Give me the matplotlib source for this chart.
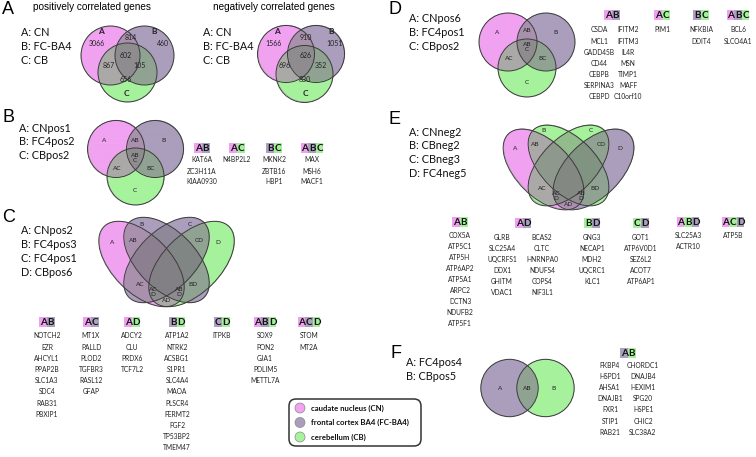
import numpy as np
import matplotlib
matplotlib.use('Agg')
import matplotlib.pyplot as plt
from matplotlib.patches import Circle, Ellipse, Rectangle, FancyBboxPatch

plt.rcParams['font.family'] = ['Lato', 'DejaVu Sans']

# ---------------- data ----------------
tissue_names = ['caudate nucleus (CN)', 'frontal cortex BA4 (FC-BA4)', 'cerebellum (CB)']

A_titles = ['positively correlated genes', 'negatively correlated genes']
A_sets = ['A: CN', 'B: FC-BA4', 'C: CB']
A_regions = ['A', 'AB', 'B', 'ABC', 'AC', 'BC', 'C']
A_pos_counts = [3066, 814, 460, 602, 867, 105, 656]
A_neg_counts = [1566, 910, 1051, 626, 696, 352, 830]

B_sets = ['A: CNpos1', 'B: FC4pos2', 'C: CBpos2']
B_groups = ['AB', 'AC', 'BC', 'ABC']
B_AB = ['KAT6A', 'ZC3H11A', 'KIAA0930']
B_AC = ['N4BP2L2']
B_BC = ['MKNK2', 'ZBTB16', 'HBP1']
B_ABC = ['MAX', 'MSH6', 'MACF1']

C_sets = ['A: CNpos2', 'B: FC4pos3', 'C: FC4pos1', 'D: CBpos6']
C_groups = ['AB', 'AC', 'AD', 'BD', 'CD', 'ABD', 'ACD']
C_AB = ['NOTCH2', 'EZR', 'AHCYL1', 'PPAP2B', 'SLC1A3', 'SDC4', 'RAB31', 'PBXIP1']
C_AC = ['MT1X', 'PALLD', 'PLOD2', 'TGFBR3', 'RASL12', 'GFAP']
C_AD = ['ADCY2', 'CLU', 'PRDX6', 'TCF7L2']
C_BD = ['ATP1A2', 'NTRK2', 'ACSBG1', 'S1PR1', 'SLC4A4', 'MAOA', 'PLSCR4',
        'FERMT2', 'FGF2', 'TP53BP2', 'TMEM47']
C_CD = ['ITPKB']
C_ABD = ['SOX9', 'PON2', 'GJA1', 'PDLIM5', 'METTL7A']
C_ACD = ['STOM', 'MT2A']

D_sets = ['A: CNpos6', 'B: FC4pos1', 'C: CBpos2']
D_groups = ['AB', 'AC', 'BC', 'ABC']
D_AB_1 = ['CSDA', 'MCL1', 'GADD45B', 'CD44', 'CEBPB', 'SERPINA3', 'CEBPD']
D_AB_2 = ['IFITM2', 'IFITM3', 'IL4R', 'MSN', 'TIMP1', 'MAFF', 'C10orf10']
D_AC = ['PIM1']
D_BC = ['NFKBIA', 'DDIT4']
D_ABC = ['BCL6', 'SLCO4A1']

E_sets = ['A: CNneg2', 'B: CBneg2', 'C: CBneg3', 'D: FC4neg5']
E_groups = ['AB', 'AD', 'BD', 'CD', 'ABD', 'ACD']
E_AB = ['COX5A', 'ATP5C1', 'ATP5H', 'ATP6AP2', 'ATP5A1', 'ARPC2', 'DCTN3', 'NDUFB2', 'ATP5F1']
E_AD_1 = ['GLRB', 'SLC25A4', 'UQCRFS1', 'DDX1', 'GHITM', 'VDAC1']
E_AD_2 = ['BCAS2', 'CLTC', 'HNRNPA0', 'NDUFS4', 'COPS4', 'NIF3L1']
E_BD = ['GNG3', 'NECAP1', 'MDH2', 'UQCRC1', 'KLC1']
E_CD = ['GOT1', 'ATP6V0D1', 'SEZ6L2', 'ACOT7', 'ATP6AP1']
E_ABD = ['SLC25A3', 'ACTR10']
E_ACD = ['ATP5B']

F_sets = ['A: FC4pos4', 'B: CBpos5']
F_groups = ['AB']
F_AB_1 = ['FKBP4', 'HSPD1', 'AHSA1', 'DNAJB1', 'FXR1', 'STIP1', 'RAB21']
F_AB_2 = ['CHORDC1', 'DNAJB4', 'HEXIM1', 'SPG20', 'HSPE1', 'CHIC2', 'SLC38A2']

# ---------------- style ----------------
PINK = (241, 162, 241)
PURPLE = (170, 158, 188)
GREEN = (166, 243, 156)
HPINK = '#EFA0EF'
HPURPLE = '#ABA0BD'
HGREEN = '#A4EE9C'
FACT = {1: 1.0, 2: 0.84, 3: 0.74, 4: 0.70}
DESAT = {1: 0.0, 2: 0.35, 3: 0.5, 4: 0.55}
EDGE = '#3c3c3c'

fig = plt.figure(figsize=(7.56, 4.57), dpi=100)
ax = fig.add_axes([0, 0, 1, 1])


def venn(shapes, cols, box):
    x0, x1, y0, y1 = box
    res = 4
    xs = np.linspace(x0, x1, int((x1 - x0) * res))
    ys = np.linspace(y0, y1, int((y1 - y0) * res))
    X, Y = np.meshgrid(xs, ys)
    masks = []
    for (cx, cy, a, b, ang) in shapes:
        t = np.deg2rad(ang)
        du, dv = X - cx, Y - cy
        p = du * np.cos(t) + dv * np.sin(t)
        q = -du * np.sin(t) + dv * np.cos(t)
        masks.append((p / a) ** 2 + (q / b) ** 2 <= 1)
    n = len(shapes)
    img = np.zeros(X.shape + (4,))
    for combo in range(1, 2 ** n):
        mem = [i for i in range(n) if (combo >> i) & 1]
        m = np.ones(X.shape, bool)
        for i in range(n):
            m &= masks[i] if i in mem else ~masks[i]
        col = np.mean([cols[i] for i in mem], axis=0) / 255.0 * FACT[len(mem)]
        g = col.mean()
        col = col + (g - col) * DESAT[len(mem)]
        img[m, :3] = col
        img[m, 3] = 1
    ax.imshow(img, extent=(x0, x1, y1, y0), origin='upper',
              interpolation='antialiased', zorder=1, aspect='auto')
    for (cx, cy, a, b, ang) in shapes:
        ax.add_patch(Ellipse((cx, cy), 2 * a, 2 * b, angle=ang, fill=False,
                             ec=EDGE, lw=0.7, zorder=2))


def circ3(cA, cB, cC, r, cols, pad=3):
    shapes = [(cA[0], cA[1], r, r, 0), (cB[0], cB[1], r, r, 0), (cC[0], cC[1], r, r, 0)]
    xs = [cA[0], cB[0], cC[0]]
    ys = [cA[1], cB[1], cC[1]]
    venn(shapes, cols, (min(xs) - r - pad, max(xs) + r + pad, min(ys) - r - pad, max(ys) + r + pad))


def quad(cx, cy, a, b, ang, dx_out, dy_out, cols):
    shapes = [(cx - dx_out, cy + dy_out, a, b, ang), (cx, cy, a, b, ang),
              (cx, cy, a, b, -ang), (cx + dx_out, cy + dy_out, a, b, -ang)]
    venn(shapes, cols, (cx - 76, cx + 76, cy - 48, cy + 56))


def letter(x, y, s):
    ax.text(x, y, s, fontsize=13, family='Liberation Sans', ha='left', va='center')


def legend_lines(x, y0, dy, lines, size=7.8):
    for i, s in enumerate(lines):
        ax.text(x, y0 + i * dy, s, fontsize=size, ha='left', va='center', color='#111')


def small(x, y, s, size=4.8, bold=False):
    ax.text(x, y, s, fontsize=size, ha='center', va='center', color='#222',
            fontweight='bold' if bold else 'normal', zorder=4, linespacing=0.95)


def header(x, y, letters, cmap, w=7.6, h=9.5):
    n = len(letters)
    left = x - n * w / 2
    for i, ch in enumerate(letters):
        ax.add_patch(Rectangle((left + i * w, y - h / 2), w, h, color=cmap[ch], lw=0, zorder=2))
        ax.text(left + i * w + w / 2, y + 0.6, ch, ha='center', va='center', fontsize=7.2,
                fontweight='bold', color='#111', zorder=3)


def genes(x, y0, names, dy=11.15):
    for i, s in enumerate(names):
        small(x, y0 + i * dy, s)


# ---------------- panel A ----------------
letter(2, 9, 'A')
ax.text(91.5, 7, A_titles[0], fontsize=7.2, family='Liberation Sans', ha='center', va='center')
ax.text(274, 7, A_titles[1], fontsize=7.2, family='Liberation Sans', ha='center', va='center')
legend_lines(21, 33, 13.6, A_sets)
legend_lines(203, 33, 13.6, A_sets)
circ3((110.5, 55.5), (144.5, 55.5), (127.5, 72.5), 29.5, [PINK, PURPLE, GREEN])
circ3((286, 54), (316, 54), (304.5, 74), 28.5, [PINK, PURPLE, GREEN])
posA = {'A': (97, 43), 'AB': (131, 37), 'B': (163, 43), 'ABC': (126, 55),
        'AC': (109, 66), 'BC': (140, 66), 'C': (126, 80)}
posA2 = {'A': (273, 44), 'AB': (306, 37), 'B': (335, 44), 'ABC': (306, 55),
         'AC': (285, 66), 'BC': (321, 66), 'C': (305, 80)}
for reg, v in zip(A_regions, A_pos_counts):
    small(*posA[reg], str(v), size=5)
for reg, v in zip(A_regions, A_neg_counts):
    small(*posA2[reg], str(v), size=5)
for (x, y, s) in [(101, 32, 'A'), (154, 32, 'B'), (126, 93, 'C'),
                  (277, 32, 'A'), (331, 32, 'B'), (305, 93, 'C')]:
    small(x, y, s, size=6, bold=True)

cmap3 = {'A': HPINK, 'B': HPURPLE, 'C': HGREEN}

# ---------------- panel B ----------------
letter(2, 118, 'B')
legend_lines(19, 128, 13.6, B_sets)
circ3((116, 149), (155, 149), (135.5, 176.5), 28.5, [PINK, PURPLE, GREEN])
for (x, y, s) in [(104, 141, 'A'), (135, 140, 'AB'), (163, 141, 'B'), (135, 158, 'AB\nC'),
                  (117, 168, 'AC'), (151, 168, 'BC'), (135, 191, 'C')]:
    small(x, y, s, size=4.6)
for gx, grp, lst in zip([202, 237, 274, 312], B_groups, [B_AB, B_AC, B_BC, B_ABC]):
    header(gx, 148, grp, cmap3)
    genes(gx, 160, lst, dy=11)

# ---------------- panel C ----------------
letter(2, 218, 'C')
legend_lines(21, 230, 14.2, C_sets)
quad(166.5, 260, 53, 29, 45, 25, 4, [PINK, PURPLE, PURPLE, GREEN])
for (x, y, s) in [(112, 243, 'A'), (142, 225, 'B'), (133, 240, 'AB'), (190, 225, 'C'),
                  (199, 240, 'CD'), (218, 243, 'D'), (140, 284, 'AC'), (193, 284, 'BD'),
                  (153, 292, 'AC\nD'), (179, 292, 'AB\nD'), (167, 301, 'AD')]:
    small(x, y, s, size=4.6)
cmap4c = {'A': HPINK, 'B': HPURPLE, 'C': HPURPLE, 'D': HGREEN}
for gx, grp, lst in zip([47, 91, 132, 177, 222, 265, 309], C_groups,
                        [C_AB, C_AC, C_AD, C_BD, C_CD, C_ABD, C_ACD]):
    header(gx, 322, grp, cmap4c)
    genes(gx, 336, lst, dy=11.2)

# legend box
ax.add_patch(FancyBboxPatch((289, 399), 132, 47, boxstyle='round,pad=0,rounding_size=7',
                            fc='white', ec='#333333', lw=1.1, zorder=2))
for i, (nm, c) in enumerate(zip(tissue_names, [PINK, PURPLE, GREEN])):
    yy = 408 + i * 14.5
    ax.add_patch(Circle((300, yy), 5, fc=np.array(c) / 255, ec='#8a8a8a', lw=0.5, zorder=3))
    ax.text(311, yy, nm, fontsize=5.6, fontweight='bold', ha='left', va='center', color='#111', zorder=3)

# ---------------- panel D ----------------
letter(388, 9, 'D')
legend_lines(409, 19, 14, D_sets)
circ3((508, 42), (546, 42), (527, 68), 29, [PINK, PURPLE, GREEN])
for (x, y, s) in [(497, 32, 'A'), (527, 30, 'AB'), (555, 32, 'B'), (527, 47, 'AB\nC'),
                  (509, 58, 'AC'), (543, 58, 'BC'), (527, 82, 'C')]:
    small(x, y, s, size=4.6)
header(612, 15, 'AB', cmap3)
genes(599, 30, D_AB_1, dy=11.1)
genes(628, 30, D_AB_2, dy=11.1)
for gx, grp, lst in zip([662, 701, 738], D_groups[1:], [D_AC, D_BC, D_ABC]):
    header(gx, 15, grp, cmap3)
    genes(gx, 30, lst, dy=11.1)

# ---------------- panel E ----------------
letter(388, 119, 'E')
legend_lines(409, 132, 13.7, E_sets)
quad(568.5, 165.5, 50, 27.5, 45, 25, 4, [PINK, GREEN, GREEN, PURPLE])
for (x, y, s) in [(515, 148, 'A'), (535, 145, 'AB'), (543, 131, 'B'), (591, 131, 'C'),
                  (601, 145, 'CD'), (620, 148, 'D'), (542, 188, 'AC'), (595, 188, 'BD'),
                  (556, 196, 'AC\nD'), (581, 196, 'AB\nD'), (569, 205, 'AD')]:
    small(x, y, s, size=4.6)
cmap4e = {'A': HPINK, 'B': HGREEN, 'C': HGREEN, 'D': HPURPLE}
header(460, 222, 'AB', cmap4e)
genes(460, 235, E_AB, dy=11.1)
header(523, 223, 'AD', cmap4e)
genes(502, 237, E_AD_1, dy=11.1)
genes(542, 237, E_AD_2, dy=11.1)
for gx, grp, lst in zip([592, 641], ['BD', 'CD'], [E_BD, E_CD]):
    header(gx, 223, grp, cmap4e)
    genes(gx, 237, lst, dy=11.1)
for gx, grp, lst in zip([688, 733], ['ABD', 'ACD'], [E_ABD, E_ACD]):
    header(gx, 222, grp, cmap4e)
    genes(gx, 235, lst, dy=11.1)

# ---------------- panel F ----------------
letter(390, 353, 'F')
legend_lines(406, 363, 13.2, F_sets)
venn([(509.5, 388, 28.7, 28.7, 0), (545.5, 388, 28.7, 28.7, 0)], [PURPLE, GREEN],
     (477, 578, 356, 420))
for (x, y, s) in [(500, 388, 'A'), (527, 388, 'AB'), (554, 388, 'B')]:
    small(x, y, s, size=4.6)
header(628, 353, 'AB', {'A': HPURPLE, 'B': HGREEN})
genes(610, 365, F_AB_1, dy=11.2)
genes(643, 365, F_AB_2, dy=11.2)

ax.set_xlim(0, 756)
ax.set_ylim(457, 0)
ax.axis('off')
fig.savefig('out.png', dpi=100, facecolor='white')
